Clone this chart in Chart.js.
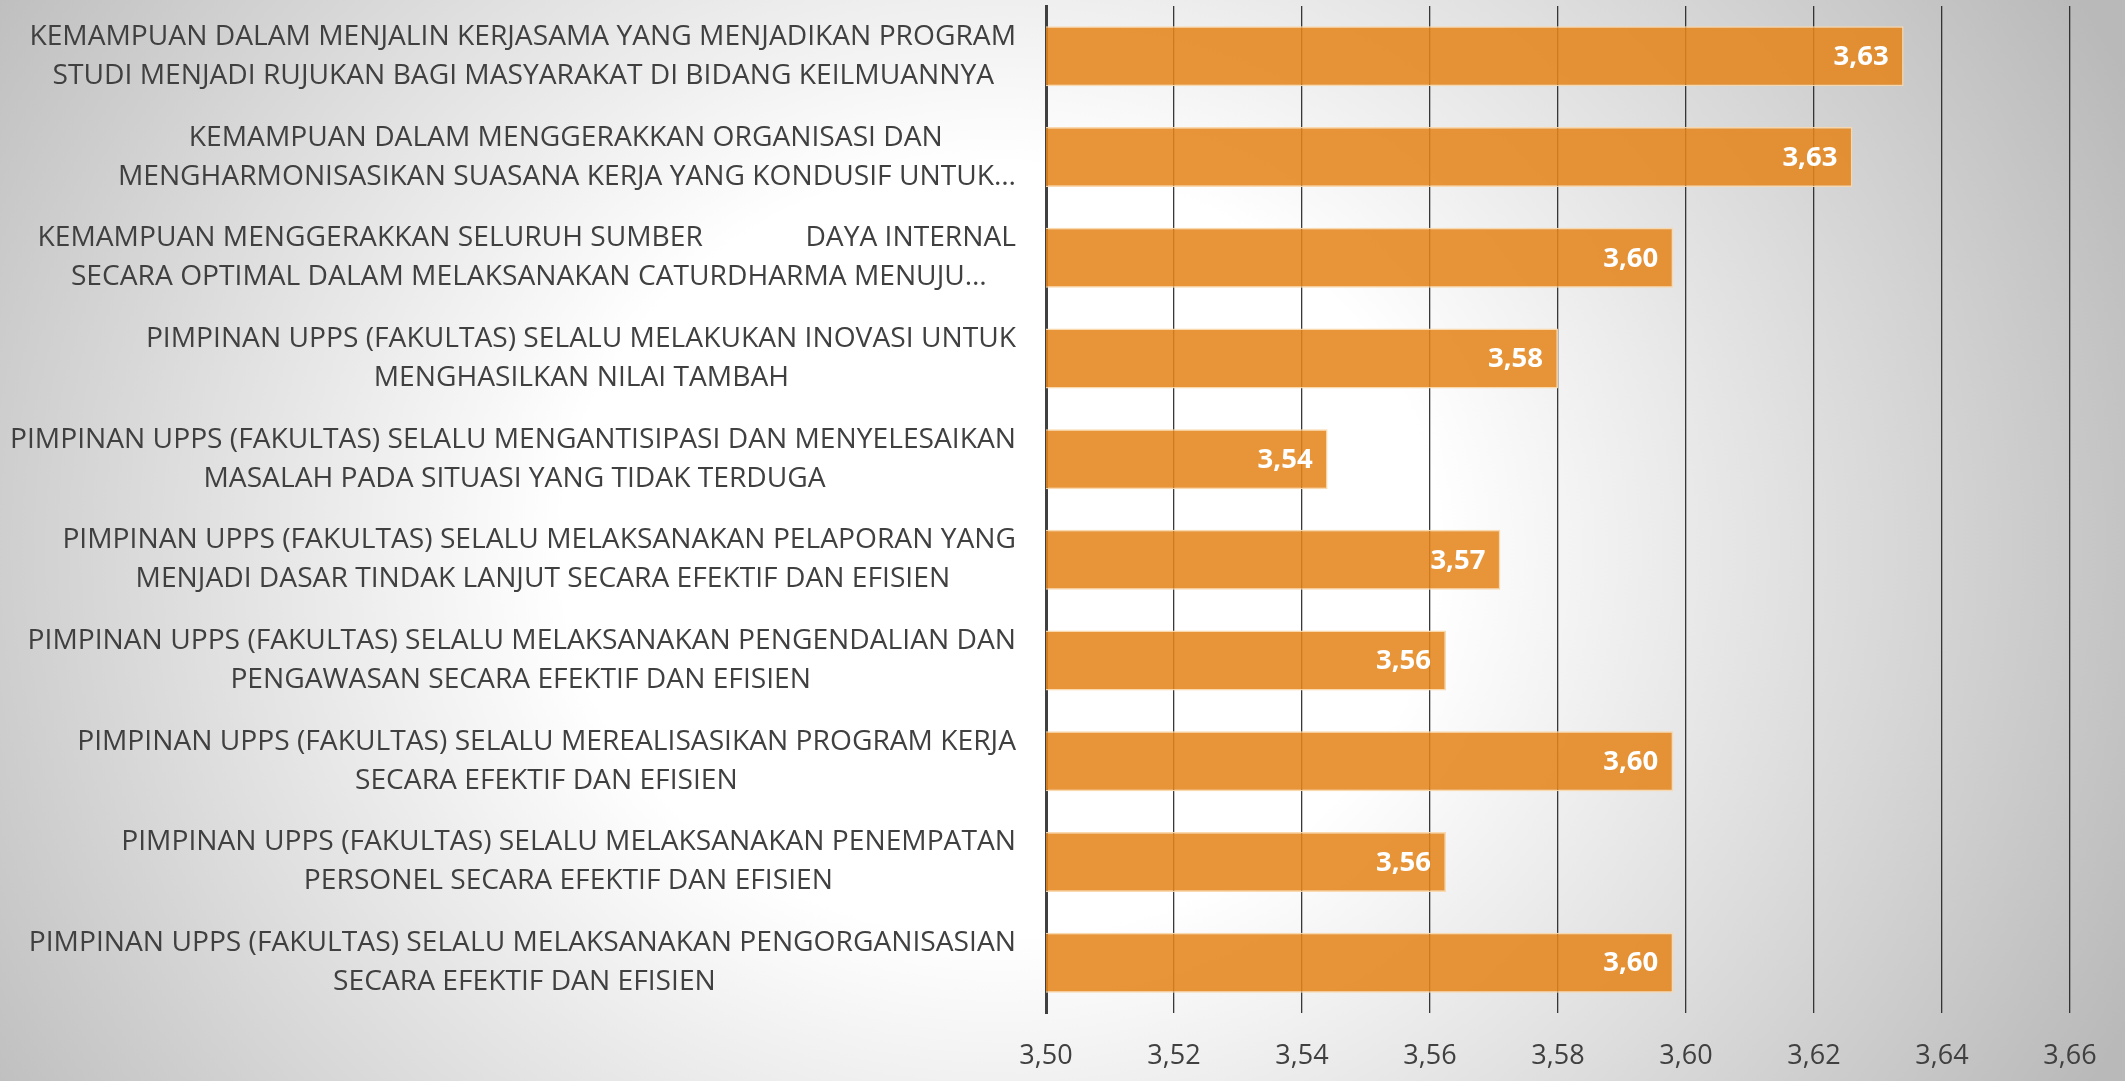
<!DOCTYPE html>
<html><head><meta charset="utf-8">
<script src="https://cdn.jsdelivr.net/npm/chart.js@4.4.0/dist/chart.umd.min.js"></script>
<style>
html,body{margin:0;padding:0;}
body{width:2125px;height:1081px;overflow:hidden;background:radial-gradient(ellipse 1250px 1100px at 1000px 550px,#ffffff 0%,#ffffff 35%,#b9b9b9 100%);}
canvas{display:block;}
</style></head><body>
<canvas id="c" width="2125" height="1081"></canvas>
<script>
// ---- data ----
const categories = [
  ["KEMAMPUAN DALAM MENJALIN KERJASAMA YANG MENJADIKAN PROGRAM", "STUDI MENJADI RUJUKAN BAGI MASYARAKAT DI BIDANG KEILMUANNYA"],
  ["KEMAMPUAN DALAM MENGGERAKKAN ORGANISASI DAN", "MENGHARMONISASIKAN SUASANA KERJA YANG KONDUSIF UNTUK…"],
  ["KEMAMPUAN MENGGERAKKAN SELURUH SUMBER              DAYA INTERNAL", "SECARA OPTIMAL DALAM MELAKSANAKAN CATURDHARMA MENUJU…"],
  ["PIMPINAN UPPS (FAKULTAS) SELALU MELAKUKAN INOVASI UNTUK", "MENGHASILKAN NILAI TAMBAH"],
  ["PIMPINAN UPPS (FAKULTAS) SELALU MENGANTISIPASI DAN MENYELESAIKAN", "MASALAH PADA SITUASI YANG TIDAK TERDUGA"],
  ["PIMPINAN UPPS (FAKULTAS) SELALU MELAKSANAKAN PELAPORAN YANG", "MENJADI DASAR TINDAK LANJUT SECARA EFEKTIF DAN EFISIEN"],
  ["PIMPINAN UPPS (FAKULTAS) SELALU MELAKSANAKAN PENGENDALIAN DAN", "PENGAWASAN SECARA EFEKTIF DAN EFISIEN"],
  ["PIMPINAN UPPS (FAKULTAS) SELALU MEREALISASIKAN PROGRAM KERJA", "SECARA EFEKTIF DAN EFISIEN"],
  ["PIMPINAN UPPS (FAKULTAS) SELALU MELAKSANAKAN PENEMPATAN", "PERSONEL SECARA EFEKTIF DAN EFISIEN"],
  ["PIMPINAN UPPS (FAKULTAS) SELALU MELAKSANAKAN PENGORGANISASIAN", "SECARA EFEKTIF DAN EFISIEN"]
];
const scores = [3.634, 3.626, 3.598, 3.580, 3.544, 3.571, 3.5625, 3.598, 3.5625, 3.598];
const xTickValues = [3.50, 3.52, 3.54, 3.56, 3.58, 3.60, 3.62, 3.64, 3.66];

// ---- helpers ----
const FONT_FAMILY = "'Open Sans', 'DejaVu Sans', sans-serif";
const LABEL_SIZE = 28.2;
const fmt = v => v.toFixed(2).replace('.', ',');
const mctx = document.createElement('canvas').getContext('2d');
mctx.font = LABEL_SIZE + "px " + FONT_FAMILY;
const spaceW = mctx.measureText(' ').width;
// centre the lines of each label among themselves (block stays right-aligned)
const paddedLabels = categories.map(lines => {
  const widths = lines.map(l => mctx.measureText(l).width);
  const W = Math.max(...widths);
  return lines.map((l, i) => l + ' '.repeat(Math.round((W - widths[i]) / 2 / spaceW)));
});

const valueLabels = {
  id: 'valueLabels',
  afterDatasetsDraw(chart) {
    const ctx = chart.ctx;
    const meta = chart.getDatasetMeta(0);
    ctx.save();
    ctx.font = "bold 27.5px " + FONT_FAMILY;
    ctx.fillStyle = '#ffffff';
    ctx.textAlign = 'right';
    ctx.textBaseline = 'middle';
    meta.data.forEach((bar, i) => {
      ctx.fillText(fmt(scores[i]), bar.x - 15, bar.y + 1);
    });
    ctx.restore();
  }
};

new Chart(document.getElementById('c'), {
  type: 'bar',
  data: {
    labels: paddedLabels,
    datasets: [{
      data: scores,
      backgroundColor: 'rgba(228,133,26,0.87)',
      borderColor: 'rgba(250,215,170,0.95)',
      borderWidth: 1.5,
      borderSkipped: 'start',
      categoryPercentage: 1,
      barPercentage: 0.596
    }]
  },
  options: {
    indexAxis: 'y',
    responsive: false,
    animation: false,
    layout: { padding: { top: 6, right: 55, bottom: 0, left: 0 } },
    plugins: { legend: { display: false }, tooltip: { enabled: false } },
    scales: {
      x: {
        min: 3.50, max: 3.66,
        afterBuildTicks(scale) { scale.ticks = xTickValues.map(v => ({ value: v })); },
        afterFit(scale) { scale.height = 68; scale.paddingLeft = 0; scale.paddingRight = 0; },
        grid: { color: 'rgba(35,35,35,0.9)', lineWidth: 1.3, drawTicks: false },
        border: { display: false },
        ticks: {
          color: '#404040',
          padding: 27,
          font: { family: FONT_FAMILY, size: 27 },
          callback: v => fmt(v)
        }
      },
      y: {
        afterFit(scale) { scale.width = 1046; scale.paddingTop = 0; scale.paddingBottom = 0; },
        grid: { display: false, drawTicks: false },
        border: { display: true, color: '#404040', width: 3 },
        ticks: {
          color: '#404040',
          padding: 30,
          autoSkip: false,
          font: { family: FONT_FAMILY, size: LABEL_SIZE, lineHeight: 1.383 }
        }
      }
    }
  },
  plugins: [valueLabels]
});
</script>
</body></html>
